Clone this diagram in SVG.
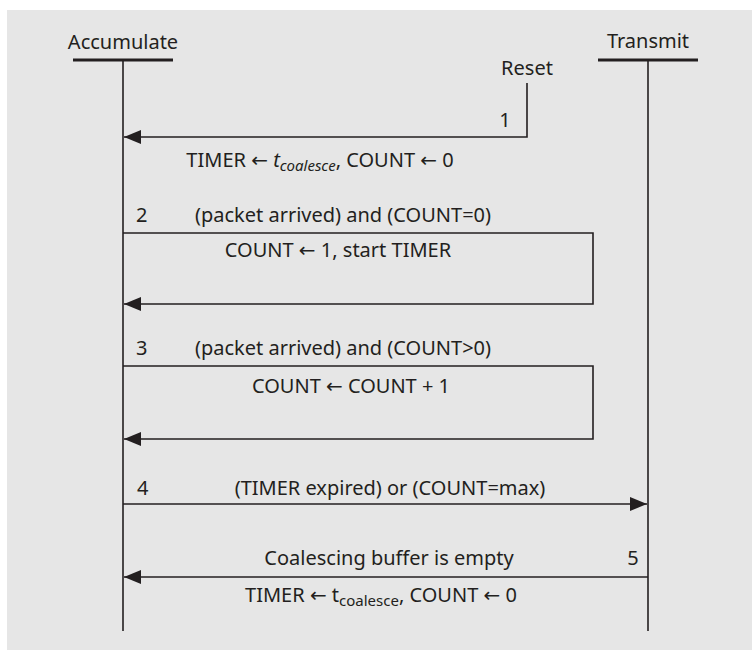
<svg xmlns="http://www.w3.org/2000/svg" width="752" height="650" viewBox="0 0 752 650">
  <style>
    .t { font-family: "Noto Sans", "Open Sans", "DejaVu Sans", sans-serif; font-size: 20px; fill: #231f20; }
    .m { text-anchor: middle; }
    .sub { font-size: 15px; }
    .it { font-style: italic; }
    .life { stroke: #231f20; stroke-width: 1.6; fill: none; }
    .bar { stroke: #231f20; stroke-width: 3; fill: none; }
    .msg { stroke: #231f20; stroke-width: 1.6; fill: none; marker-end: url(#arrow); }
  </style>
  <defs>
    <marker id="arrow" markerUnits="userSpaceOnUse" markerWidth="18" markerHeight="14" refX="17" refY="7" orient="auto">
      <path d="M0,0 L17,7 L0,14 Z" fill="#231f20"/>
    </marker>
  </defs>

  <!-- panel background -->
  <rect x="7" y="10" width="745" height="640" fill="#e6e6e6"/>

  <!-- lifelines -->
  <g id="accumulate">
    <text class="t m" x="123" y="49">Accumulate</text>
    <line class="bar" x1="73" y1="60" x2="173" y2="60"/>
    <line class="life" x1="123" y1="60" x2="123" y2="631"/>
  </g>
  <g id="transmit">
    <text class="t m" x="648" y="48">Transmit</text>
    <line class="bar" x1="598" y1="60" x2="698" y2="60"/>
    <line class="life" x1="648" y1="60" x2="648" y2="631"/>
  </g>
  <g id="reset">
    <text class="t m" x="527" y="75">Reset</text>
  </g>

  <!-- transitions -->
  <g id="connectors">
    <path class="msg" d="M527,83 V137 H124"/>
    <path class="msg" d="M123,233 H593 V304 H124"/>
    <path class="msg" d="M123,366 H593 V439 H124"/>
    <path class="msg" d="M123,504 H647"/>
    <path class="msg" d="M648,577 H124"/>
  </g>

  <!-- transition labels -->
  <g id="labels">
    <text class="t m" x="505" y="127">1</text>
    <text class="t m" x="320" y="167">TIMER ← <tspan class="it">t</tspan><tspan class="it sub" dy="4">coalesce</tspan><tspan dy="-4">, COUNT ← 0</tspan></text>

    <text class="t" x="136" y="222">2</text>
    <text class="t m" x="343" y="222">(packet arrived) and (COUNT=0)</text>
    <text class="t m" x="338" y="257">COUNT ← 1, start TIMER</text>

    <text class="t" x="136" y="355">3</text>
    <text class="t m" x="343" y="355">(packet arrived) and (COUNT&gt;0)</text>
    <text class="t m" x="351" y="393">COUNT ← COUNT + 1</text>

    <text class="t" x="137" y="495">4</text>
    <text class="t m" x="390" y="495">(TIMER expired) or (COUNT=max)</text>

    <text class="t m" x="389" y="565">Coalescing buffer is empty</text>
    <text class="t m" x="633" y="565">5</text>
    <text class="t m" x="381" y="602">TIMER ← t<tspan class="sub" dy="4">coalesce</tspan><tspan dy="-4">, COUNT ← 0</tspan></text>
  </g>
</svg>
